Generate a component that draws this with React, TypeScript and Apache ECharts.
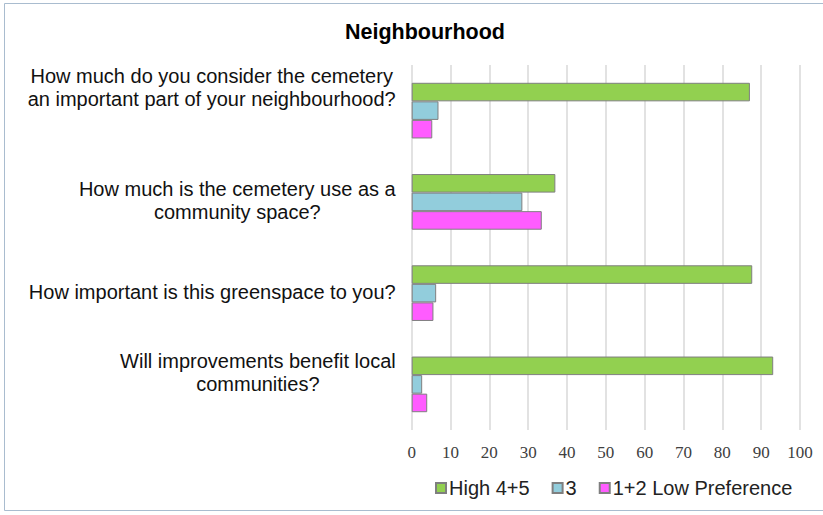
import React, { useEffect, useRef } from "react";
import * as echarts from "echarts";

const categories = [
  ["How much do you consider the cemetery", "an important part of your neighbourhood?"],
  ["How much is the cemetery use as a", "community space?"],
  ["How important is this greenspace to you?"],
  ["Will improvements benefit local", "communities?"],
];
const labelLift = [23, 1, 1, 12];
const seriesNames = ["High 4+5", "3", "1+2 Low Preference"];
const high45 = [87.1, 37.0, 87.7, 93.1];
const three = [6.9, 28.5, 6.3, 2.7];
const low12 = [5.3, 33.5, 5.6, 4.0];
const xTicks = [0, 10, 20, 30, 40, 50, 60, 70, 80, 90, 100];
const colors = ["#92d050", "#92cddc", "#ff5cff"];

export default function App() {
  const ref = useRef<HTMLDivElement>(null);
  useEffect(() => {
    if (!ref.current) return;
    const chart = echarts.init(ref.current, undefined, { renderer: "svg" });
    const values = [high45, three, low12];
    const rich: any = {
      a: { align: "center", fontFamily: "Liberation Sans, Arial", fontSize: 20, color: "#111", lineHeight: 23 },
    };
    labelLift.forEach((l, i) => {
      rich["s" + i] = { fontSize: 1, lineHeight: Math.max(1, l * 2) };
    });
    chart.setOption({
      animation: false,
      backgroundColor: "#ffffff",
      title: {
        text: "Neighbourhood",
        left: 420,
        textAlign: "center",
        top: 16,
        textStyle: { fontFamily: "Liberation Sans, Arial", fontWeight: "bold", fontSize: 21.5, color: "#000" },
      },
      graphic: [
        {
          type: "rect",
          shape: { x: 4.5, y: 3.5, width: 830, height: 507 },
          style: { fill: "none", stroke: "#a9bccf", lineWidth: 1 },
          silent: true,
        },
      ],
      legend: {
        data: seriesNames,
        bottom: 12,
        left: 430,
        itemWidth: 10,
        itemHeight: 10,
        itemGap: 22,
        icon: "rect",
        textStyle: { fontFamily: "Liberation Sans, Arial", fontSize: 20, color: "#222", padding: [0, 0, 0, -2] },
      },
      grid: { left: 411.7, right: 23, top: 65, bottom: 85, containLabel: false },
      xAxis: {
        type: "value",
        min: 0,
        max: 100,
        interval: 10,
        axisLine: { show: false },
        axisTick: { show: false },
        splitLine: { lineStyle: { color: "#d9d9d9", width: 1.5 } },
        axisLabel: {
          margin: 14,
          fontFamily: "Liberation Serif, serif",
          fontSize: 17,
          color: "#404040",
          formatter: (v: number) => (xTicks.includes(v) ? String(v) : ""),
        },
      },
      yAxis: {
        type: "category",
        inverse: true,
        data: categories.map((c, i) => String(i)),
        axisLine: { show: false },
        axisTick: { show: false },
        axisLabel: {
          margin: 16,
          formatter: (v: string) => {
            const i = Number(v);
            const lines = categories[i].map((l) => "{a|" + l + "}").join("\n");
            return lines + "\n{s" + i + "| }";
          },
          rich,
        },
      },
      series: values.map((d, si) => ({
        name: seriesNames[si],
        type: "bar",
        data: d,
        barGap: "0%",
        barCategoryGap: "39%",
        itemStyle: { color: colors[si], borderColor: "#7f7f7f", borderWidth: 1 },
      })),
    });
    return () => chart.dispose();
  }, []);
  return <div ref={ref} style={{ position: "fixed", left: 0, top: 0, width: 823, height: 515 }} />;
}
